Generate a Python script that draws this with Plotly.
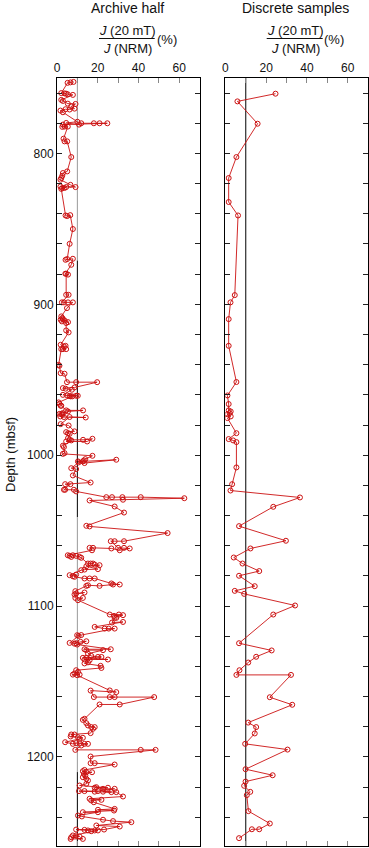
import plotly.graph_objects as go

# ---------------- data ----------------
archive_depth = [
    752.6, 752.9, 753.2, 760.0, 760.2, 760.4, 760.8, 761.2, 764.5, 765.2,
    767.0, 767.2, 768.8, 770.3, 770.9, 770.7, 771.6, 772.7, 779.0, 779.8,
    780.9, 780.0, 780.0, 780.0, 780.0, 780.9, 782.4, 782.2, 782.2, 790.2,
    792.0, 792.0, 802.4, 811.9, 813.0, 814.8, 816.3, 817.4, 820.8, 822.3,
    821.9, 822.9, 822.9, 822.3, 823.5, 841.1, 841.5, 840.9, 850.1, 859.9,
    870.0, 870.5, 869.8, 873.8, 879.7, 880.3, 879.7, 893.7, 893.7, 898.7,
    898.7, 898.7, 898.7, 902.5, 908.0, 909.1, 910.2, 911.3, 910.7, 909.8,
    911.8, 912.4, 917.3, 918.6, 926.8, 927.9, 927.5, 929.7, 929.7, 929.7,
    940.1, 940.7, 945.6, 946.0, 951.6, 951.6, 951.6, 955.1, 955.5, 955.9,
    956.6, 960.0, 960.4, 960.6, 960.6, 960.8, 961.0, 961.0, 965.0, 965.9,
    967.2, 967.2, 970.3, 970.3, 971.0, 972.1, 972.6, 972.5, 973.2, 974.3,
    974.7, 975.0, 974.7, 979.4, 980.3, 984.2, 984.7, 985.4, 985.8, 988.7,
    989.8, 989.8, 989.1, 990.9, 990.9, 990.2, 993.7, 994.6, 998.6, 999.1,
    1000.4, 1002.6, 1003.5, 1004.1, 1004.1, 1003.0, 1005.2, 1004.8, 1008.6, 1009.2,
    1013.4, 1018.1, 1019.2, 1019.2, 1022.9, 1022.9, 1022.9, 1024.0, 1027.8, 1027.8,
    1027.8, 1027.8, 1028.5, 1029.5, 1030.0, 1034.0, 1038.0, 1046.8, 1047.2, 1051.6,
    1057.0, 1057.0, 1057.0, 1061.4, 1061.4, 1061.8, 1063.0, 1061.8, 1061.4, 1061.4,
    1063.0, 1066.3, 1066.7, 1067.4, 1066.3, 1066.7, 1067.4, 1068.0, 1071.8, 1071.8,
    1071.8, 1072.5, 1072.9, 1073.6, 1075.5, 1075.8, 1076.2, 1079.5, 1080.2, 1079.1,
    1080.6, 1081.7, 1081.7, 1081.7, 1085.0, 1085.7, 1085.7, 1086.6, 1086.2, 1086.6,
    1090.1, 1091.7, 1091.0, 1092.3, 1094.6, 1094.6, 1096.1, 1105.6, 1105.6, 1106.0,
    1106.5, 1107.8, 1107.8, 1110.9, 1110.5, 1113.8, 1114.9, 1114.9, 1114.9, 1119.2,
    1119.3, 1119.8, 1124.4, 1124.6, 1124.9, 1123.7, 1123.3, 1125.5, 1128.6, 1128.6,
    1129.2, 1129.2, 1131.5, 1133.0, 1133.7, 1133.7, 1134.3, 1134.3, 1135.4, 1135.4,
    1135.9, 1137.3, 1138.0, 1139.6, 1141.0, 1142.5, 1143.6, 1144.7, 1145.4, 1145.4,
    1145.8, 1155.9, 1157.0, 1156.0, 1160.3, 1160.3, 1160.3, 1160.3, 1165.2, 1165.2,
    1174.7, 1175.4, 1177.6, 1179.1, 1180.2, 1180.2, 1181.3, 1184.2, 1185.1, 1185.1,
    1186.4, 1186.9, 1187.3, 1188.0, 1190.2, 1191.3, 1190.8, 1190.8, 1191.3, 1191.3,
    1192.4, 1195.3, 1195.3, 1195.3, 1199.7, 1204.1, 1204.1, 1205.0, 1208.6, 1209.4,
    1210.1, 1210.1, 1211.2, 1212.3, 1213.4, 1214.5, 1215.6, 1217.8, 1218.9, 1220.4,
    1220.4, 1220.0, 1221.1, 1221.1, 1222.6, 1222.6, 1222.6, 1223.0, 1223.3, 1223.0,
    1223.3, 1226.2, 1227.7, 1228.4, 1228.8, 1230.0, 1234.4, 1235.0, 1235.5, 1236.6,
    1236.6, 1238.8, 1239.4, 1241.6, 1242.5, 1243.2, 1245.4, 1246.1, 1248.1, 1248.1,
    1248.3, 1248.7, 1249.2, 1248.7, 1248.7, 1252.0, 1252.0, 1252.7, 1253.2, 1254.3, 1254.3,
]
archive_ratio = [
    8.1, 6.6, 5.2, 2.1, 3.7, 4.5, 5.3, 7.8, 2.1, 2.9,
    5.3, 9.1, 7.0, 8.6, 6.2, 4.2, 1.7, 2.9, 10.0, 4.5,
    10.8, 11.9, 18.1, 20.9, 24.7, 2.9, 2.6, 3.7, 5.3, 3.2,
    3.7, 5.0, 7.0, 5.0, 2.9, 2.6, 2.1, 1.7, 6.6, 9.1,
    1.7, 2.6, 3.7, 4.5, 2.1, 4.2, 5.0, 6.5, 7.8, 6.2,
    5.0, 4.2, 7.8, 7.0, 4.1, 5.4, 4.5, 4.5, 5.7, 2.4,
    3.4, 5.4, 7.8, 4.9, 2.1, 2.6, 1.8, 2.4, 3.7, 2.9,
    5.4, 4.5, 4.5, 5.7, 1.8, 3.4, 4.2, 2.9, 4.5, 2.1,
    0.8, 1.2, 1.8, 3.7, 4.9, 9.4, 19.7, 8.6, 2.9, 4.2,
    7.3, 2.9, 5.0, 9.4, 10.2, 6.2, 6.7, 7.5, 0.8, 1.2,
    1.8, 2.1, 4.5, 12.8, 5.4, 2.9, 1.2, 2.1, 2.6, 1.6,
    3.4, 14.1, 6.2, 1.8, 5.7, 8.6, 4.5, 5.4, 6.2, 5.4,
    6.2, 12.8, 17.4, 14.8, 4.5, 7.0, 2.9, 3.4, 3.7, 2.9,
    17.4, 13.9, 13.2, 10.3, 12.7, 29.1, 13.5, 10.6, 7.0, 9.4,
    7.8, 16.5, 4.0, 6.6, 3.4, 4.0, 8.3, 9.4, 24.2, 27.0,
    32.1, 41.1, 62.5, 32.4, 16.0, 28.3, 32.9, 14.4, 16.0, 54.3,
    32.9, 28.3, 26.4, 30.0, 32.9, 35.7, 30.8, 26.7, 17.7, 16.0,
    17.2, 5.3, 6.2, 7.0, 7.8, 9.4, 11.1, 11.9, 15.2, 16.5,
    17.7, 18.5, 20.9, 14.4, 20.1, 13.5, 11.9, 6.2, 7.8, 9.4,
    8.6, 13.5, 16.0, 18.5, 26.7, 30.8, 27.5, 20.9, 15.2, 14.4,
    9.0, 9.4, 13.5, 8.6, 9.0, 12.7, 10.3, 25.9, 30.4, 32.4,
    28.0, 29.1, 28.3, 27.0, 32.4, 18.5, 23.4, 25.4, 28.3, 11.9,
    9.9, 10.6, 6.2, 9.4, 8.6, 11.6, 14.4, 9.9, 26.4, 13.5,
    14.4, 22.6, 15.2, 16.8, 20.1, 21.8, 12.7, 14.4, 25.0, 13.5,
    16.0, 15.2, 13.5, 21.4, 21.8, 9.4, 10.3, 8.6, 7.8, 11.1,
    9.9, 25.9, 29.1, 16.5, 18.1, 28.3, 25.9, 47.7, 30.8, 20.9,
    13.5, 12.7, 14.4, 15.2, 16.8, 18.5, 17.7, 16.5, 7.0, 8.6,
    6.7, 10.3, 12.7, 11.1, 4.0, 7.8, 9.4, 11.1, 13.5, 15.2,
    11.9, 9.0, 41.1, 48.4, 16.5, 16.5, 18.5, 28.3, 13.5, 12.7,
    14.4, 17.2, 13.2, 13.9, 12.7, 14.4, 15.2, 14.4, 11.1, 25.0,
    18.5, 19.3, 22.6, 28.3, 20.1, 10.8, 13.5, 18.5, 26.7, 22.6,
    29.1, 32.4, 16.0, 21.8, 16.8, 18.1, 28.3, 20.1, 28.0, 12.7,
    20.1, 10.3, 12.2, 22.6, 27.5, 36.5, 19.3, 30.8, 23.1, 9.4,
    13.5, 15.2, 16.8, 18.5, 20.1, 7.8, 9.4, 11.1, 7.0, 12.7, 6.7,
]

discrete_depth = [
    760.4, 765.5, 780.3, 802.4, 816.3, 832.2, 841.1, 893.9, 898.7, 909.8,
    927.5, 951.5, 960.4, 966.1, 970.3, 971.0, 972.1, 972.8, 974.3, 975.4,
    985.4, 989.3, 990.2, 991.3, 1008.1, 1019.2, 1023.4, 1028.0, 1034.2, 1047.0,
    1056.7, 1061.8, 1067.8, 1071.8, 1076.8, 1079.9, 1086.8, 1089.9, 1091.9, 1099.6,
    1105.6, 1124.6, 1129.4, 1133.6, 1137.4, 1142.5, 1145.6, 1145.6, 1160.4, 1165.4,
    1177.2, 1180.2, 1184.4, 1191.3, 1195.1, 1208.1, 1212.1, 1216.3, 1219.1, 1223.1,
    1225.3, 1235.9, 1244.1, 1247.9, 1247.9, 1253.8,
]
discrete_ratio = [
    24.6, 5.9, 15.8, 5.4, 1.6, 1.6, 6.2, 4.6, 2.5, 1.6,
    1.6, 5.4, 1.0, 1.6, 1.6, 2.6, 2.1, 1.0, 2.6, 1.0,
    5.4, 1.6, 3.8, 5.4, 5.4, 3.3, 2.5, 36.6, 23.5, 6.7,
    29.7, 12.3, 4.1, 8.4, 16.6, 6.7, 14.4, 4.6, 9.2, 34.2,
    23.5, 6.7, 22.7, 15.1, 11.2, 6.9, 5.4, 32.2, 21.8, 32.8,
    11.2, 15.1, 14.4, 9.7, 30.5, 9.9, 23.2, 9.9, 9.2, 12.2,
    10.5, 11.3, 21.8, 16.6, 13.0, 6.7,
]

x_tick_values = [0, 10, 20, 30, 40, 50, 60, 70]
x_tick_labels = ["0", "", "20", "", "40", "", "60", ""]
depth_tick_values = list(range(760, 1260, 20))
depth_tick_labels = [str(v) if v % 100 == 0 else "" for v in depth_tick_values]
reference_level = 10
depth_range = [1259, 750]
ratio_range = [0, 70]
panel_titles = ["Archive half", "Discrete samples"]

# ---------------- figure ----------------
RED = "#cc1111"
FONT = "Liberation Sans, Arial, Helvetica, sans-serif"
W, H = 369, 848
ML, MR, MT, MB = 57, 1, 78, 2
PW = W - ML - MR
PH = H - MT - MB
dom1 = [0.0, 0.4585]
dom2 = [0.5415, 1.0]

def px_x(p):
    return (p - ML) / PW

def px_y(p):
    return 1 - (p - MT) / PH

fig = go.Figure()
common = dict(mode="lines+markers",
              line=dict(color=RED, width=0.9),
              marker=dict(symbol="circle-open", size=5, color=RED, line=dict(width=1, color=RED)),
              showlegend=False, hoverinfo="x+y")
fig.add_trace(go.Scatter(x=archive_ratio, y=archive_depth, xaxis="x", yaxis="y", **common))
fig.add_trace(go.Scatter(x=discrete_ratio, y=discrete_depth, xaxis="x2", yaxis="y2", **common))

xax = dict(range=ratio_range, side="top", tickmode="array", tickvals=x_tick_values,
           ticktext=x_tick_labels, ticks="inside", ticklen=5, tickcolor="#888",
           showline=True, linecolor="black", linewidth=1, mirror="ticks",
           showgrid=False, zeroline=False, automargin=False,
           tickfont=dict(size=12, family=FONT, color="#111"))
yax = dict(range=depth_range, tickmode="array", tickvals=depth_tick_values,
           ticks="inside", ticklen=5, tickcolor="#222",
           showline=True, linecolor="black", linewidth=1, mirror="ticks",
           showgrid=False, zeroline=False, automargin=False,
           tickfont=dict(size=12, family=FONT, color="#111"))

fig.update_layout(
    width=W, height=H,
    margin=dict(l=ML, r=MR, t=MT, b=MB),
    paper_bgcolor="white", plot_bgcolor="white",
    font=dict(family=FONT, color="#111"),
    xaxis=dict(domain=dom1, anchor="y", **xax),
    xaxis2=dict(domain=dom2, anchor="y2", **xax),
    yaxis=dict(domain=[0, 1], anchor="x", ticktext=depth_tick_labels, **yax),
    yaxis2=dict(domain=[0, 1], anchor="x2", showticklabels=False, **yax),
)

shapes = []
# reference line at 10 %
seg = [(750, 871, "#999"), (871, 1041, "black"), (1041, 1210, "#999"), (1210, 1259, "black")]
for a, b, c in seg:
    shapes.append(dict(type="line", xref="x", yref="y", x0=reference_level, x1=reference_level,
                       y0=a, y1=b, line=dict(color=c, width=1), layer="below"))
shapes.append(dict(type="line", xref="x2", yref="y2", x0=reference_level, x1=reference_level,
                   y0=750, y1=1259, line=dict(color="black", width=1), layer="below"))
# fraction bars
for x0, x1 in [(99, 154.7), (266.7, 322.7)]:
    shapes.append(dict(type="line", xref="paper", yref="paper", x0=px_x(x0), x1=px_x(x1),
                       y0=px_y(38.5), y1=px_y(38.5), line=dict(color="#111", width=1)))
fig.update_layout(shapes=shapes)

ann = []
for title, cx, fx, px in [(panel_titles[0], 127, 127, 167), (panel_titles[1], 295.5, 295, 334)]:
    ann.append(dict(text=title, x=px_x(cx), y=px_y(8), xref="paper", yref="paper",
                    showarrow=False, xanchor="center", yanchor="middle",
                    font=dict(size=14, family=FONT, color="#111")))
    ann.append(dict(text="<i>J</i> (20 mT)", x=px_x(fx), y=px_y(31), xref="paper", yref="paper",
                    showarrow=False, xanchor="center", yanchor="middle",
                    font=dict(size=13, family=FONT, color="#111")))
    ann.append(dict(text="<i>J</i> (NRM)", x=px_x(fx), y=px_y(48), xref="paper", yref="paper",
                    showarrow=False, xanchor="center", yanchor="middle",
                    font=dict(size=13, family=FONT, color="#111")))
    ann.append(dict(text="(%)", x=px_x(px), y=px_y(39), xref="paper", yref="paper",
                    showarrow=False, xanchor="center", yanchor="middle",
                    font=dict(size=13, family=FONT, color="#111")))
ann.append(dict(text="Depth (mbsf)", x=px_x(10), y=px_y(455), xref="paper", yref="paper",
                showarrow=False, xanchor="center", yanchor="middle", textangle=-90,
                font=dict(size=13, family=FONT, color="#111")))
fig.update_layout(annotations=ann)

fig.write_html("out.html", config={"displayModeBar": False},
               post_script="document.body.style.margin='0';document.body.style.overflow='hidden';")
